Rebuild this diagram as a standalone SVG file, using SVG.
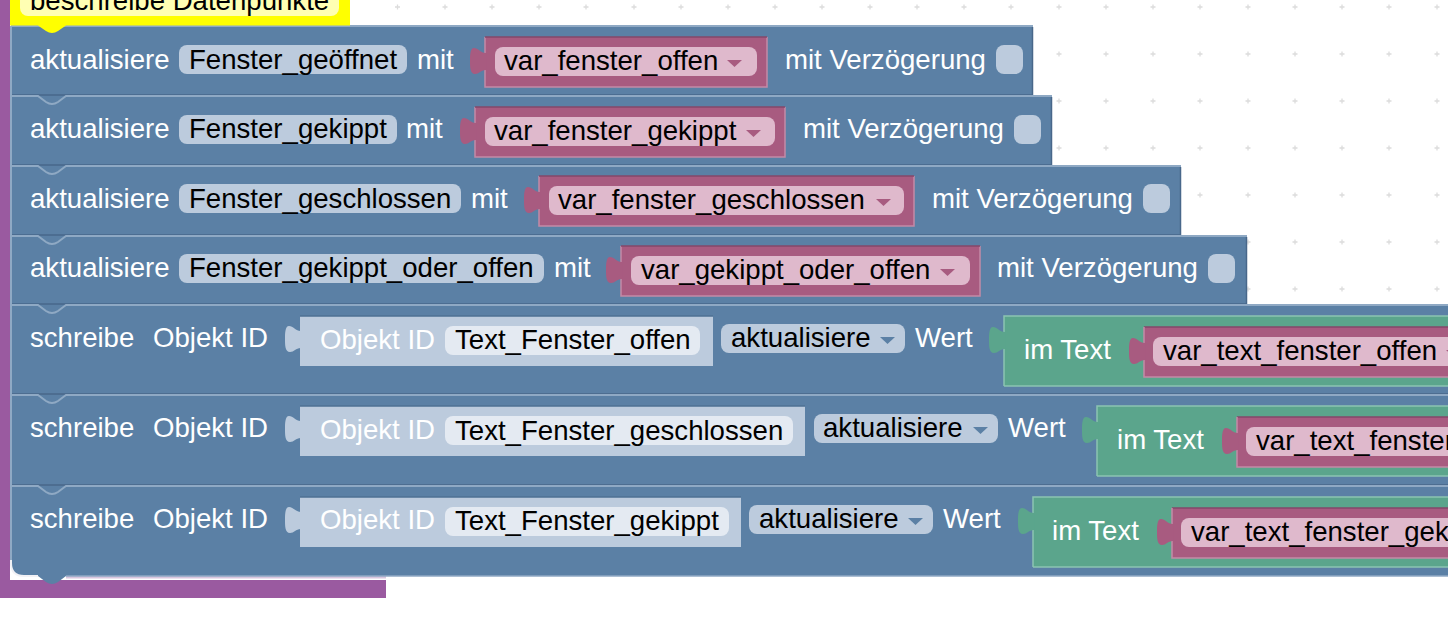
<svg xmlns="http://www.w3.org/2000/svg" width="1448" height="624" viewBox="0 0 1448 624">
<style>
text{font-family:"Liberation Sans",Arial,Helvetica,sans-serif;font-size:27.6px}
.w{fill:#fff}.k{fill:#000}
.blue{fill:#5b80a5;stroke:none}
.hl{fill:none;stroke:#8fa9c4;stroke-width:2}
.sh{fill:none;stroke:#48678a;stroke-width:1.5}
.lt{fill:#bccbdd}
.lt2{fill:#e4eaf2}
.mg{fill:#a85b80}
.mgi{fill:#dfb9cc}
.gr{fill:#5ba58c}
.el{fill:none;stroke:#4e7093;stroke-width:1.5}
.em{fill:none;stroke:#c38aa7;stroke-width:1.5}
.eg{fill:none;stroke:#8cc4b1;stroke-width:1.5}
.ed{fill:none;stroke:#85476a;stroke-width:1.5}
.dot{fill:none;stroke:#dcdcdc;stroke-width:1.3}
</style>
<defs>
<path id="tab" d="M15.5,5 C11,5 8,0 4,0 C0,0 0,8 0,13 C0,19 0,26 5,26 C9,26 11,22 15.5,22 L16.5,22 V5 Z"/>
<path id="ar" d="M0,0 H15 L7.5,7 Z"/>
<path id="plus" d="M-2.5,0 H2.5 M0,-2.5 V2.5"/>
</defs>
<rect width="1448" height="624" fill="#fff"/>
<g id="grid" class="dot">
<use href="#plus" x="397.5" y="7"/><use href="#plus" x="445" y="7"/><use href="#plus" x="492" y="7"/><use href="#plus" x="539" y="7"/><use href="#plus" x="586" y="7"/><use href="#plus" x="634" y="7"/><use href="#plus" x="681" y="7"/><use href="#plus" x="728" y="7"/><use href="#plus" x="775" y="7"/><use href="#plus" x="822" y="7"/><use href="#plus" x="870" y="7"/><use href="#plus" x="917" y="7"/><use href="#plus" x="964" y="7"/><use href="#plus" x="1011" y="7"/><use href="#plus" x="1059" y="7"/><use href="#plus" x="1106" y="7"/><use href="#plus" x="1153" y="7"/><use href="#plus" x="1200" y="7"/><use href="#plus" x="1248" y="7"/><use href="#plus" x="1295" y="7"/><use href="#plus" x="1342" y="7"/><use href="#plus" x="1389" y="7"/><use href="#plus" x="1437" y="7"/>
<use href="#plus" x="1059" y="54"/><use href="#plus" x="1106" y="54"/><use href="#plus" x="1153" y="54"/><use href="#plus" x="1200" y="54"/><use href="#plus" x="1248" y="54"/><use href="#plus" x="1295" y="54"/><use href="#plus" x="1342" y="54"/><use href="#plus" x="1389" y="54"/><use href="#plus" x="1437" y="54"/>
<use href="#plus" x="1059" y="101"/><use href="#plus" x="1106" y="101"/><use href="#plus" x="1153" y="101"/><use href="#plus" x="1200" y="101"/><use href="#plus" x="1248" y="101"/><use href="#plus" x="1295" y="101"/><use href="#plus" x="1342" y="101"/><use href="#plus" x="1389" y="101"/><use href="#plus" x="1437" y="101"/>
<use href="#plus" x="1059" y="148"/><use href="#plus" x="1106" y="148"/><use href="#plus" x="1153" y="148"/><use href="#plus" x="1200" y="148"/><use href="#plus" x="1248" y="148"/><use href="#plus" x="1295" y="148"/><use href="#plus" x="1342" y="148"/><use href="#plus" x="1389" y="148"/><use href="#plus" x="1437" y="148"/>
<use href="#plus" x="1200" y="195"/><use href="#plus" x="1248" y="195"/><use href="#plus" x="1295" y="195"/><use href="#plus" x="1342" y="195"/><use href="#plus" x="1389" y="195"/><use href="#plus" x="1437" y="195"/>
<use href="#plus" x="1248" y="242"/><use href="#plus" x="1295" y="242"/><use href="#plus" x="1342" y="242"/><use href="#plus" x="1389" y="242"/><use href="#plus" x="1437" y="242"/>
<use href="#plus" x="1248" y="289"/><use href="#plus" x="1295" y="289"/><use href="#plus" x="1342" y="289"/><use href="#plus" x="1389" y="289"/><use href="#plus" x="1437" y="289"/>
</g>
<g id="connectors"></g>
<g id="wrapper">
<path d="M0,0 H10 V580 H386 V598 H0 Z" fill="#9a5aa0"/>
</g>
<g id="row1">
<rect class="blue" x="11" y="26" width="1022" height="70"/>
<path class="hl" d="M11,26 H1033"/><path class="sh" d="M11,95 H1033 M1032.5,27 V95"/>
<path class="hl" d="M11,26 V96"/>
<rect class="lt" x="179" y="45" width="228" height="29" rx="8"/>
<text class="w" x="30" y="69">aktualisiere</text><text class="k" x="189" y="69">Fenster_geöffnet</text><text class="w" x="417" y="69">mit</text>
<rect class="mg" x="485" y="37" width="282" height="50"/><path class="em" d="M485,37 V87 H767 V37"/><path class="ed" d="M485,37 H767"/>
<use href="#tab" class="mg" x="470" y="48"/>
<rect class="mgi" x="495" y="47" width="262" height="29" rx="8"/>
<text class="k" x="504" y="70">var_fenster_offen</text><use href="#ar" class="mg" x="727" y="60"/>
<text class="w" x="785" y="69">mit Verzögerung</text><rect class="lt" x="996" y="45" width="27" height="29" rx="8"/>
</g>
<g id="row2">
<rect class="blue" x="11" y="96" width="1041" height="70"/>
<path class="hl" d="M11,96 H38 L46,102 Q52,106 58,102 L66,96 H1052"/><path class="sh" d="M11,165 H1052 M1051.5,97 V165"/>
<path class="hl" d="M11,96 V166"/>
<rect class="lt" x="179" y="115" width="218" height="29" rx="8"/>
<text class="w" x="30" y="138">aktualisiere</text><text class="k" x="189" y="138">Fenster_gekippt</text><text class="w" x="406" y="138">mit</text>
<rect class="mg" x="475" y="107" width="310" height="50"/><path class="em" d="M475,107 V157 H785 V107"/><path class="ed" d="M475,107 H785"/>
<use href="#tab" class="mg" x="460" y="118"/>
<rect class="mgi" x="485" y="117" width="290" height="29" rx="8"/>
<text class="k" x="494" y="140">var_fenster_gekippt</text><use href="#ar" class="mg" x="746" y="130"/>
<text class="w" x="803" y="138">mit Verzögerung</text><rect class="lt" x="1014" y="115" width="27" height="29" rx="8"/>
</g>
<g id="row3">
<rect class="blue" x="11" y="166" width="1170" height="70"/>
<path class="hl" d="M11,166 H38 L46,172 Q52,176 58,172 L66,166 H1181"/><path class="sh" d="M11,235 H1181 M1180.5,167 V235"/>
<path class="hl" d="M11,166 V236"/>
<rect class="lt" x="179" y="184" width="282" height="29" rx="8"/>
<text class="w" x="30" y="208">aktualisiere</text><text class="k" x="189" y="208">Fenster_geschlossen</text><text class="w" x="471" y="208">mit</text>
<rect class="mg" x="539" y="176" width="375" height="50"/><path class="em" d="M539,176 V226 H914 V176"/><path class="ed" d="M539,176 H914"/>
<use href="#tab" class="mg" x="524" y="187"/>
<rect class="mgi" x="549" y="186" width="355" height="29" rx="8"/>
<text class="k" x="558" y="209">var_fenster_geschlossen</text><use href="#ar" class="mg" x="876" y="199"/>
<text class="w" x="932" y="208">mit Verzögerung</text><rect class="lt" x="1143" y="184" width="27" height="29" rx="8"/>
</g>
<g id="row4">
<rect class="blue" x="11" y="236" width="1236" height="69"/>
<path class="hl" d="M11,236 H38 L46,242 Q52,246 58,242 L66,236 H1247"/><path class="sh" d="M11,304 H1247 M1246.5,237 V304"/>
<path class="hl" d="M11,236 V305"/>
<rect class="lt" x="179" y="254" width="365" height="29" rx="8"/>
<text class="w" x="30" y="277">aktualisiere</text><text class="k" x="189" y="277">Fenster_gekippt_oder_offen</text><text class="w" x="554" y="277">mit</text>
<rect class="mg" x="621" y="246" width="359" height="50"/><path class="em" d="M621,246 V296 H980 V246"/><path class="ed" d="M621,246 H980"/>
<use href="#tab" class="mg" x="606" y="257"/>
<rect class="mgi" x="631" y="256" width="339" height="29" rx="8"/>
<text class="k" x="641" y="279">var_gekippt_oder_offen</text><use href="#ar" class="mg" x="940" y="269"/>
<text class="w" x="997" y="277">mit Verzögerung</text><rect class="lt" x="1208" y="254" width="27" height="29" rx="8"/>
</g>
<g id="row5">
<rect class="blue" x="11" y="305" width="1437" height="90"/>
<path class="hl" d="M11,305 H38 L46,311 Q52,315 58,311 L66,305 H1448"/><path class="sh" d="M11,394 H1448"/>
<path class="hl" d="M11,305 V395"/>
<text class="w" x="30" y="347">schreibe</text><text class="w" x="153" y="347">Objekt ID</text>
<rect class="lt" x="300" y="316" width="413" height="50"/><path class="el" d="M300,316 H713"/>
<use href="#tab" class="lt" x="285" y="326"/>
<text class="w" x="320" y="349">Objekt ID</text><rect class="lt2" x="445" y="326" width="255" height="29" rx="8"/><text class="k" x="455" y="349">Text_Fenster_offen</text>
<rect class="lt" x="721" y="324" width="184" height="29" rx="8"/><text class="k" x="731" y="347">aktualisiere</text><use href="#ar" class="blue" x="880" y="337"/>
<text class="w" x="915" y="347">Wert</text>
<rect class="gr" x="1004" y="316" width="444" height="70"/><path class="eg" d="M1004,386 V316 H1448 M1004,386 H1448"/>
<use href="#tab" class="gr" x="989" y="327"/>
<text class="w" x="1024" y="359">im Text</text>
<rect class="mg" x="1144" y="327" width="304" height="50"/><path class="ed" d="M1144,327 H1448"/><path class="em" d="M1144,327 V377 H1448"/>
<use href="#tab" class="mg" x="1129" y="338"/>
<rect class="mgi" x="1153" y="337" width="305" height="29" rx="8"/>
<text class="k" x="1163" y="360">var_text_fenster_offen</text><use href="#ar" class="mg" x="1446" y="350"/>
</g>
<g id="row6">
<rect class="blue" x="11" y="395" width="1437" height="91"/>
<path class="hl" d="M11,395 H38 L46,401 Q52,405 58,401 L66,395 H1448"/><path class="sh" d="M11,485 H1448"/>
<path class="hl" d="M11,395 V486"/>
<text class="w" x="30" y="437">schreibe</text><text class="w" x="153" y="437">Objekt ID</text>
<rect class="lt" x="300" y="406" width="505" height="50"/><path class="el" d="M300,406 H805"/>
<use href="#tab" class="lt" x="285" y="416"/>
<text class="w" x="320" y="439">Objekt ID</text><rect class="lt2" x="445" y="416" width="348" height="29" rx="8"/><text class="k" x="455" y="440">Text_Fenster_geschlossen</text>
<rect class="lt" x="814" y="414" width="184" height="29" rx="8"/><text class="k" x="823" y="437">aktualisiere</text><use href="#ar" class="blue" x="973" y="427"/>
<text class="w" x="1008" y="437">Wert</text>
<rect class="gr" x="1097" y="406" width="351" height="70"/><path class="eg" d="M1097,476 V406 H1448 M1097,476 H1448"/>
<use href="#tab" class="gr" x="1082" y="417"/>
<text class="w" x="1117" y="449">im Text</text>
<rect class="mg" x="1237" y="417" width="211" height="50"/><path class="ed" d="M1237,417 H1448"/><path class="em" d="M1237,417 V467 H1448"/>
<use href="#tab" class="mg" x="1222" y="428"/>
<rect class="mgi" x="1246" y="427" width="212" height="29" rx="8"/>
<text class="k" x="1256" y="450">var_text_fenster</text>
</g>
<g id="row7">
<path d="M66,577 H386" stroke="#d9c5de" stroke-width="3"/>
<path class="blue" d="M11,486 H1448 V576 H66 L58,582 Q52,586 46,582 L38,576 H24 Q11,576 11,563 Z"/>
<path class="hl" d="M11,486 H38 L46,492 Q52,496 58,492 L66,486 H1448"/><path d="M66,576 H1448" stroke="#8fa9c4" stroke-width="1.5"/>
<path class="hl" d="M11,486 V560"/>
<path d="M11,560 V563 Q11,576 24,576 H38" fill="none" stroke="#f2f2f6" stroke-width="2"/>
<text class="w" x="30" y="528">schreibe</text><text class="w" x="153" y="528">Objekt ID</text>
<rect class="lt" x="300" y="497" width="441" height="50"/><path class="el" d="M300,497 H741"/>
<use href="#tab" class="lt" x="285" y="507"/>
<text class="w" x="320" y="529">Objekt ID</text><rect class="lt2" x="445" y="507" width="284" height="29" rx="8"/><text class="k" x="455" y="530">Text_Fenster_gekippt</text>
<rect class="lt" x="749" y="505" width="184" height="29" rx="8"/><text class="k" x="759" y="528">aktualisiere</text><use href="#ar" class="blue" x="908" y="518"/>
<text class="w" x="943" y="528">Wert</text>
<rect class="gr" x="1033" y="497" width="415" height="70"/><path class="eg" d="M1033,567 V497 H1448 M1033,567 H1448"/>
<use href="#tab" class="gr" x="1018" y="508"/>
<text class="w" x="1052" y="540">im Text</text>
<rect class="mg" x="1172" y="508" width="276" height="50"/><path class="ed" d="M1172,508 H1448"/><path class="em" d="M1172,508 V558 H1448"/>
<use href="#tab" class="mg" x="1157" y="519"/>
<rect class="mgi" x="1181" y="518" width="277" height="29" rx="8"/>
<text class="k" x="1191" y="541">var_text_fenster_gek</text>
</g>
<g id="hat">
<path d="M10,0 H350 V25.5 H66 L58,31 Q52,35 46,31 L38,25.5 H10 Z" fill="#ffff00"/>
<rect x="20" y="-14" width="319" height="30" rx="8" fill="#ffffb3"/>
<text class="k" x="30" y="10">beschreibe Datenpunkte</text>
</g>
</svg>
